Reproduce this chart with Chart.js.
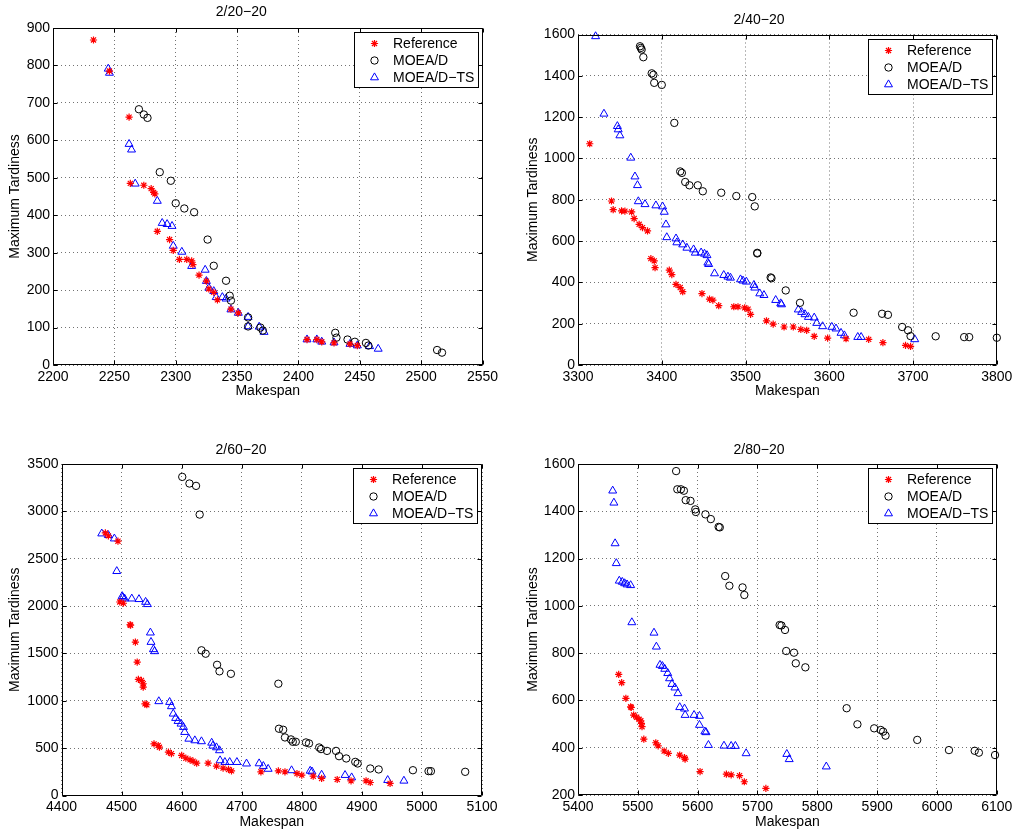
<!DOCTYPE html>
<html><head><meta charset="utf-8">
<script src="https://cdn.jsdelivr.net/npm/chart.js@4.4.1/dist/chart.umd.min.js"></script>
<style>
html,body{margin:0;padding:0;background:#fff;}
body{width:1016px;height:831px;position:relative;overflow:hidden;}
canvas{position:absolute;}
</style></head><body>
<canvas id="c1" width="520" height="410" style="left:0;top:0;width:520px;height:410px"></canvas>
<canvas id="c2" width="496" height="410" style="left:520px;top:0;width:496px;height:410px"></canvas>
<canvas id="c3" width="520" height="416" style="left:0;top:415px;width:520px;height:416px"></canvas>
<canvas id="c4" width="496" height="416" style="left:520px;top:415px;width:496px;height:416px"></canvas>
<script>
// ---------- DATA ----------
const seriesNames = ['Reference', 'MOEA/D', 'MOEA/D\u2212TS'];
const panelTitles = ['2/20\u221220', '2/40\u221220', '2/60\u221220', '2/80\u221220'];
const xLabel = 'Makespan';
const yLabel = 'Maximum Tardiness';

// Panel 1: 2/20-20
const ref1X = [2233,2246,2262,2263,2274,2280,2282,2283,2285,2295,2298,2303,2309,2313,2314,2319,2325,2327,2331,2334,2345,2351,2407,2415,2419,2429,2442,2448];
const ref1Y = [868,785,662,485,480,471,461,457,357,335,306,282,282,278,268,240,224,203,194,174,149,139,68,68,62,59,56,52];
const moead1X = [2270,2274,2277,2287,2296,2300,2307,2315,2326,2331,2341,2344,2345,2359,2359,2369,2371,2430,2431,2440,2446,2455,2457,2513,2517];
const moead1Y = [683,669,660,515,492,432,418,408,335,265,225,185,172,127,103,100,92,86,73,68,62,59,52,40,33];
const ts1X = [2245,2246,2262,2264,2267,2285,2289,2293,2297,2298,2305,2313,2324,2325,2327,2331,2333,2338,2341,2345,2351,2359,2359,2368,2372,2407,2415,2419,2429,2442,2448,2458,2465];
const ts1Y = [791,780,590,575,484,438,379,376,371,318,302,264,254,224,206,197,181,181,177,148,139,128,103,102,88,68,68,62,60,56,52,50,43];

// Panel 2: 2/40-20
const ref2X = [3314,3340,3342,3352,3356,3364,3367,3373,3377,3383,3387,3391,3392,3409,3412,3417,3422,3425,3448,3457,3461,3468,3486,3491,3499,3503,3506,3525,3533,3546,3557,3566,3573,3582,3598,3620,3647,3664,3691,3697];
const ref2Y = [1071,794,752,746,745,741,709,681,665,649,515,504,471,459,438,390,375,355,346,319,314,287,282,282,277,270,245,214,198,184,184,172,168,139,130,127,124,108,95,90];
const moead2X = [3374,3375,3376,3378,3388,3390,3391,3400,3415,3422,3424,3428,3433,3443,3449,3471,3489,3508,3511,3514,3514,3530,3531,3548,3565,3629,3663,3670,3687,3694,3697,3727,3761,3767,3800];
const moead2Y = [1543,1535,1527,1490,1412,1405,1366,1356,1172,937,930,886,870,870,841,834,818,813,768,540,543,424,420,361,301,253,248,243,184,168,140,139,135,135,132];
const ts2X = [3321,3331,3347,3348,3350,3363,3368,3371,3372,3380,3393,3401,3403,3405,3406,3417,3418,3425,3430,3438,3440,3447,3451,3454,3455,3456,3463,3474,3479,3482,3494,3497,3501,3510,3511,3517,3522,3536,3542,3543,3563,3567,3571,3575,3582,3585,3592,3603,3608,3614,3618,3634,3638,3702];
const ts2Y = [1591,1216,1156,1140,1111,1003,912,870,792,778,772,767,741,680,618,612,593,583,567,559,543,544,538,531,495,488,443,435,427,422,414,408,403,387,374,346,338,314,298,293,268,256,245,232,229,203,187,184,176,155,143,135,135,124];

// Panel 3: 2/60-20
const ref3X = [4473,4478,4494,4497,4503,4514,4515,4523,4526,4528,4533,4536,4536,4539,4542,4554,4561,4563,4578,4583,4600,4607,4614,4619,4625,4644,4658,4669,4678,4683,4732,4761,4772,4792,4800,4819,4833,4859,4882,4907,4914,4947];
const ref3Y = [2773,2741,2685,2043,2030,1803,1798,1620,1409,1226,1215,1180,1145,968,958,545,528,510,458,442,423,394,376,363,341,341,310,289,275,260,250,260,250,232,215,204,180,169,155,155,137,127];
const moead3X = [4601,4613,4624,4630,4633,4640,4659,4663,4682,4761,4762,4769,4772,4782,4785,4790,4807,4812,4829,4832,4842,4857,4862,4874,4889,4893,4914,4928,4985,5011,5015,5072];
const moead3Y = [3364,3294,3269,2966,1533,1497,1380,1311,1285,1180,705,694,613,592,567,567,560,550,507,490,471,471,415,391,355,338,285,275,267,257,257,250];
const ts3X = [4467,4478,4488,4492,4501,4502,4505,4517,4529,4540,4543,4548,4549,4553,4555,4562,4580,4583,4586,4590,4594,4599,4603,4605,4612,4622,4633,4650,4652,4658,4663,4664,4672,4680,4692,4708,4729,4736,4744,4783,4814,4817,4833,4872,4883,4943,4970];
const ts3Y = [2765,2748,2712,2368,2104,2090,2078,2078,2072,2043,2019,1719,1620,1543,1522,994,986,941,863,817,785,757,722,669,598,581,571,556,525,507,476,370,352,352,352,336,338,310,280,265,260,252,218,215,190,162,155];

// Panel 4: 2/80-20
const ref4X = [5468,5473,5480,5488,5489,5493,5498,5502,5505,5506,5507,5510,5530,5534,5544,5551,5570,5578,5579,5604,5648,5656,5670,5678,5714];
const ref4Y = [710,675,609,573,570,538,529,520,514,503,489,436,421,408,386,376,369,358,352,299,288,285,282,256,228];
const moead4X = [5564,5566,5572,5577,5580,5588,5596,5597,5613,5622,5635,5637,5646,5653,5675,5678,5737,5740,5746,5748,5761,5764,5780,5849,5867,5895,5906,5910,5914,5967,6020,6063,6070,6097];
const moead4Y = [1570,1493,1493,1487,1447,1444,1408,1397,1387,1367,1334,1332,1126,1085,1078,1046,919,917,898,809,802,757,740,567,499,482,475,468,451,433,390,387,379,369];
const ts4X = [5458,5460,5462,5464,5469,5474,5478,5482,5488,5490,5527,5531,5537,5541,5545,5550,5553,5557,5562,5567,5570,5578,5579,5594,5603,5603,5612,5614,5618,5644,5656,5663,5681,5749,5753,5815];
const ts4Y = [1487,1436,1264,1180,1106,1101,1095,1090,1087,930,886,827,750,745,733,715,693,669,654,630,571,565,538,538,534,496,468,465,411,408,407,407,376,373,351,320];

// Axis ranges and ticks
const xMin = [2200, 3300, 4400, 5400];
const xMax = [2550, 3800, 5100, 6100];
const xStep = [50, 100, 100, 100];
const yMin = [0, 0, 0, 200];
const yMax = [900, 1600, 3500, 1600];
const yStep = [100, 200, 500, 200];

// ---------- RENDERING ----------
const FONT = 'Liberation Sans, Arial, Helvetica, sans-serif';
Chart.defaults.font.family = FONT;
Chart.defaults.font.size = 14;
Chart.defaults.color = '#000';

const pts = (xs, ys) => xs.map((x, i) => ({x: x, y: ys[i]}));

const styles = [
  {pointStyle: 'star', pointRadius: 3.6, color: '#ff0000', fill: '#ff0000', bw: 1.2},
  {pointStyle: 'circle', pointRadius: 3.7, color: '#000000', fill: 'rgba(0,0,0,0)', bw: 1},
  {pointStyle: 'triangle', pointRadius: 4.6, color: '#0000ff', fill: 'rgba(0,0,0,0)', bw: 1}
];

const framePlugin = {
  id: 'matlabFrame',
  afterDraw(chart) {
    const {ctx, chartArea: a, scales} = chart;
    const L = Math.round(a.left) + 0.5, R = Math.round(a.right) - 0.5;
    const T = Math.round(a.top) + 0.5, B = Math.round(a.bottom) - 0.5;
    ctx.save();
    ctx.strokeStyle = '#000';
    ctx.lineWidth = 1;
    ctx.setLineDash([]);
    ctx.beginPath();
    ctx.rect(L, T, R - L, B - T);
    ctx.stroke();
    const tl = 4;
    ctx.beginPath();
    scales.x.ticks.forEach(t => {
      const p = Math.round(scales.x.getPixelForValue(t.value)) + 0.5;
      ctx.moveTo(p, B); ctx.lineTo(p, B - tl);
      ctx.moveTo(p, T); ctx.lineTo(p, T + tl);
    });
    scales.y.ticks.forEach(t => {
      const p = Math.round(scales.y.getPixelForValue(t.value)) + 0.5;
      ctx.moveTo(L, p); ctx.lineTo(L + tl, p);
      ctx.moveTo(R, p); ctx.lineTo(R - tl, p);
    });
    ctx.stroke();

    // legend box (top-right inside axes)
    const bw = 124, bh = 55;
    const bx = Math.round(a.right - 5 - bw) + 0.5, by = Math.round(a.top + 4) + 0.5;
    ctx.fillStyle = '#fff';
    ctx.fillRect(bx, by, bw, bh);
    ctx.strokeStyle = '#000';
    ctx.strokeRect(bx, by, bw, bh);
    ctx.font = '14px ' + FONT;
    ctx.textBaseline = 'middle';
    ctx.textAlign = 'left';
    chart.data.datasets.forEach((ds, i) => {
      const cy = by + 11 + i * 17;
      const s = styles[i];
      ctx.strokeStyle = s.color;
      ctx.fillStyle = s.fill;
      ctx.lineWidth = s.bw;
      Chart.helpers.drawPoint(ctx, {pointStyle: s.pointStyle, radius: s.pointRadius, borderWidth: s.bw, rotation: 0}, bx + 20, cy);
      ctx.fillStyle = '#000';
      ctx.fillText(ds.label, bx + 38.5, cy + 0.5);
    });
    ctx.restore();
  }
};

const layouts = [
  {wy: 53,   padR: 37.5, tTop: 4.1,  tBot: 7.1, hx: 45,   xtPad: 10.6, ytPad: 6.6},
  {wy: 58,   padR: 18,   tTop: 11.6, tBot: 6.1, hx: 45,   xtPad: 10.6, ytPad: 4.6},
  {wy: 61.5, padR: 38,   tTop: 26.6, tBot: 5.6, hx: 35.5, xtPad: 0.6,  ytPad: 6.6},
  {wy: 58,   padR: 18,   tTop: 26.6, tBot: 5.6, hx: 36,   xtPad: 0.6,  ytPad: 4.6}
];

const panelData = [
  [[ref1X, ref1Y], [moead1X, moead1Y], [ts1X, ts1Y]],
  [[ref2X, ref2Y], [moead2X, moead2Y], [ts2X, ts2Y]],
  [[ref3X, ref3Y], [moead3X, moead3Y], [ts3X, ts3Y]],
  [[ref4X, ref4Y], [moead4X, moead4Y], [ts4X, ts4Y]]
];

panelData.forEach((series, p) => {
  const lay = layouts[p];
  const gridCommon = {color: 'rgba(0,0,0,0.55)', lineWidth: 1, drawTicks: false};
  new Chart(document.getElementById('c' + (p + 1)), {
    type: 'scatter',
    data: {
      datasets: series.map((xy, i) => ({
        label: seriesNames[i],
        data: pts(xy[0], xy[1]),
        pointStyle: styles[i].pointStyle,
        pointRadius: styles[i].pointRadius,
        pointHoverRadius: styles[i].pointRadius,
        borderColor: styles[i].color,
        backgroundColor: styles[i].fill,
        pointBorderWidth: styles[i].bw,
        borderWidth: styles[i].bw,
        showLine: false,
        clip: false
      }))
    },
    options: {
      responsive: false,
      animation: false,
      events: [],
      layout: {padding: {left: 0, top: 0, right: lay.padR, bottom: 0}},
      plugins: {
        legend: {display: false},
        tooltip: {enabled: false},
        title: {
          display: true, text: panelTitles[p], color: '#000',
          font: {size: 14, weight: 'normal', family: FONT},
          padding: {top: lay.tTop, bottom: lay.tBot}
        }
      },
      scales: {
        x: {
          type: 'linear', min: xMin[p], max: xMax[p],
          afterFit: s => { s.height = lay.hx; },
          ticks: {stepSize: xStep[p], autoSkip: false, maxRotation: 0, padding: 3.6, color: '#000',
                  callback: v => String(v)},
          grid: gridCommon,
          border: {display: false, dash: [1, 3]},
          title: {display: true, text: xLabel, color: '#000', font: {size: 14}, padding: {top: 0, bottom: lay.xtPad}}
        },
        y: {
          type: 'linear', min: yMin[p], max: yMax[p],
          afterFit: s => { s.width = lay.wy; },
          ticks: {stepSize: yStep[p], autoSkip: false, padding: 3, color: '#000',
                  callback: v => String(v)},
          grid: gridCommon,
          border: {display: false, dash: [1, 3]},
          title: {display: true, text: yLabel, color: '#000', font: {size: 14}, padding: {top: lay.ytPad, bottom: 0}}
        }
      }
    },
    plugins: [framePlugin]
  });
});
</script>
</body></html>
